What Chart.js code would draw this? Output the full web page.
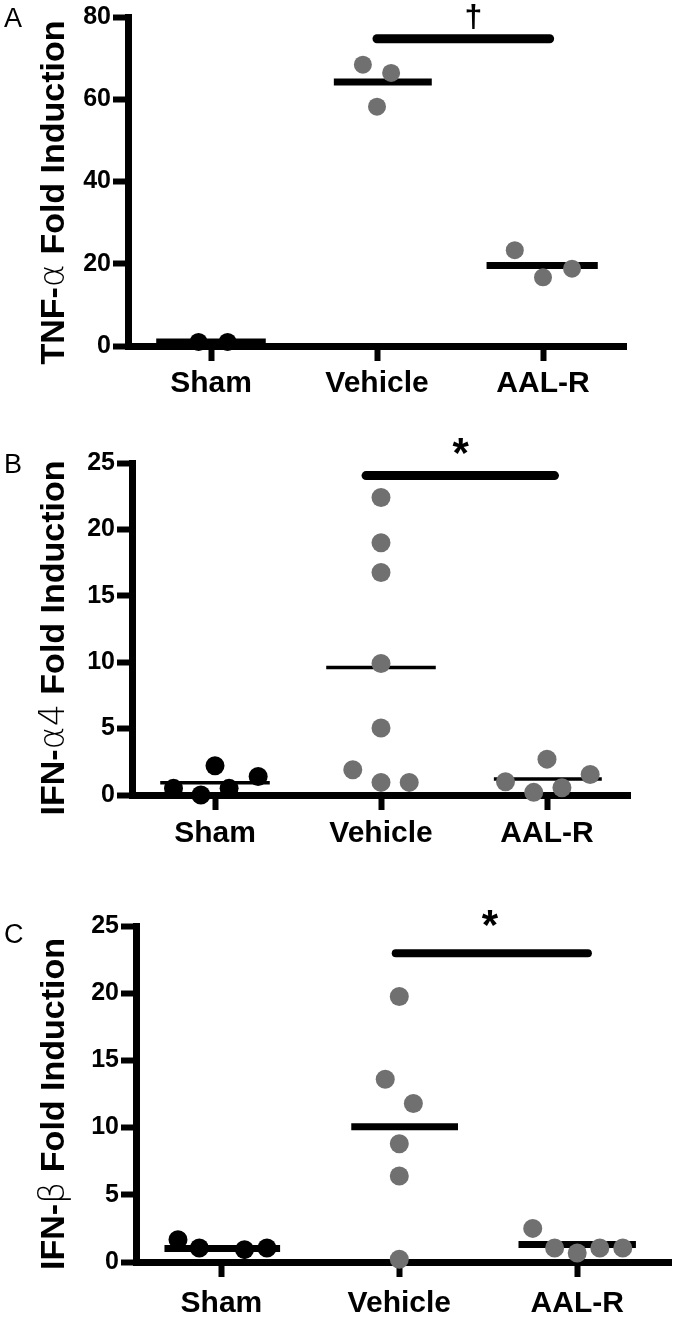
<!DOCTYPE html>
<html>
<head>
<meta charset="utf-8">
<script src="https://cdn.jsdelivr.net/npm/chart.js@4.4.1/dist/chart.umd.min.js"></script>
<style>
  html, body { margin: 0; padding: 0; background: #fff; }
  body { width: 681px; height: 1318px; position: relative; overflow: hidden; }
  canvas { position: absolute; left: 0; }
</style>
</head>
<body>
<canvas id="painel-a" width="681" height="410" style="top:0px"></canvas>
<canvas id="painel-b" width="681" height="430" style="top:420px"></canvas>
<canvas id="painel-c" width="681" height="458" style="top:860px"></canvas>
<script>
const categorias = ["Sham", "Vehicle", "AAL-R"];

// ── A: TNF-α ──
const tnfSham      = [1.0, 1.0];
const tnfShamDx    = [-0.075, 0.1];
const tnfVeiculo   = [68.4, 66.4, 58.2];
const tnfVeiculoDx = [-0.085, 0.085, 0];
const tnfAalr      = [23.3, 16.7, 18.8];
const tnfAalrDx    = [-0.17, 0, 0.175];
const tnfMedias    = [1.0, 64.2, 19.6];
const tnfMediaDe   = [-0.33, -0.26, -0.34];
const tnfMediaAte  = [0.33, 0.33, 0.33];
const tnfBarra     = [2.0, 3.04, 74.7];   // x inicial, x final, y
const tnfMarca     = [2.58, 79.8];
const tnfTicksY    = [0, 20, 40, 60, 80];

// ── B: IFN-α4 ──
const ifnaSham      = [0.5, 0.0, 2.2, 0.5, 1.4];
const ifnaShamDx    = [-0.25, -0.085, 0, 0.085, 0.26];
const ifnaVeiculo   = [22.4, 19.0, 16.75, 9.9, 5.05, 1.9, 0.95, 0.95];
const ifnaVeiculoDx = [0, 0, 0, 0, 0, -0.17, 0, 0.17];
const ifnaAalr      = [1.0, 0.2, 2.7, 0.55, 1.55];
const ifnaAalrDx    = [-0.25, -0.08, 0, 0.09, 0.26];
const ifnaMedias    = [0.93, 9.6, 1.2];
const ifnaMediaDe   = [-0.33, -0.33, -0.32];
const ifnaMediaAte  = [0.33, 0.33, 0.33];
const ifnaBarra     = [1.91, 3.045, 24.05];
const ifnaMarca     = [2.48, 25.6];
const ifnaTicksY    = [0, 5, 10, 15, 20, 25];

// ── C: IFN-β ──
const ifnbSham      = [1.66, 1.04, 0.92, 1.04];
const ifnbShamDx    = [-0.244, -0.124, 0.13, 0.256];
const ifnbVeiculo   = [19.75, 13.6, 11.8, 8.8, 6.4, 0.2];
const ifnbVeiculoDx = [0, -0.079, 0.079, 0, 0, 0];
const ifnbAalr      = [2.5, 1.04, 0.67, 1.04, 1.04];
const ifnbAalrDx    = [-0.25, -0.127, 0, 0.127, 0.256];
const ifnbMedias    = [1.0, 10.06, 1.3];
const ifnbMediaDe   = [-0.32, -0.27, -0.33];
const ifnbMediaAte  = [0.33, 0.33, 0.33];
const ifnbBarra     = [1.98, 3.06, 22.97];
const ifnbMarca     = [2.51, 24.9];
const ifnbTicksY    = [0, 5, 10, 15, 20, 25];

const PRETO = "#000000";
const CINZA = "#707070";
const FONTE = '"Liberation Sans", Arial, Helvetica, sans-serif';

function zerarPadding(s) {
    s.paddingTop = 0; s.paddingBottom = 0; s.paddingLeft = 0; s.paddingRight = 0;
}

// desenha letra do painel, título do eixo y (com grego em fonte fina) e marca de significância
const decoracao = {
    id: "decoracao",
    afterDraw(chart, args, opts) {
        const ctx = chart.ctx;
        const area = chart.chartArea;
        ctx.save();
        ctx.fillStyle = PRETO;

        ctx.font = "27px " + FONTE;
        ctx.textAlign = "left";
        ctx.textBaseline = "top";
        ctx.fillText(opts.letra, 4, opts.letraY);

        // título rotacionado
        ctx.save();
        ctx.translate(opts.tituloX, (area.top + area.bottom) / 2 + opts.tituloDy);
        ctx.rotate(-Math.PI / 2);
        ctx.textBaseline = "alphabetic";
        let total = 0;
        opts.titulo.forEach(([txt, fnt]) => { ctx.font = fnt; total += ctx.measureText(txt).width; });
        let x = -total / 2;
        opts.titulo.forEach(([txt, fnt]) => {
            ctx.font = fnt;
            ctx.fillText(txt, x, 0);
            x += ctx.measureText(txt).width;
        });
        ctx.restore();

        const sx = chart.scales.x, sy = chart.scales.y;
        ctx.font = opts.marcaFonte;
        ctx.textAlign = "center";
        ctx.textBaseline = "middle";
        ctx.fillText(opts.marca, sx.getPixelForValue(opts.marcaPos[0]), sy.getPixelForValue(opts.marcaPos[1]));
        ctx.restore();
    }
};

function montarPainel(id, p) {
    const canvas = document.getElementById(id);
    const H = canvas.height;
    const datasets = [];

    p.grupos.forEach((g, i) => {
        const cx = i + 1;
        datasets.push({
            type: "scatter",
            data: g.valores.map((v, k) => ({ x: cx + g.dx[k], y: v })),
            backgroundColor: i === 0 ? PRETO : CINZA,
            borderWidth: 0,
            pointRadius: p.raio,
            pointHoverRadius: p.raio,
            clip: false,
            order: 0,
        });
        datasets.push({
            type: "line",
            data: [
                { x: cx + p.mediaDe[i],  y: p.medias[i] },
                { x: cx + p.mediaAte[i], y: p.medias[i] },
            ],
            borderColor: PRETO,
            borderWidth: p.larguraMedia,
            borderCapStyle: "butt",
            pointRadius: 0,
            clip: false,
            order: 1,
        });
    });

    datasets.push({
        type: "line",
        data: [
            { x: p.barra[0], y: p.barra[2] },
            { x: p.barra[1], y: p.barra[2] },
        ],
        borderColor: PRETO,
        borderWidth: p.larguraBarra,
        borderCapStyle: "round",
        pointRadius: 0,
        clip: false,
        order: 1,
    });

    const grade = {
        display: true,
        drawOnChartArea: false,
        drawTicks: true,
        tickLength: 15,
        tickWidth: 6,
        tickColor: PRETO,
    };
    const borda = { display: true, width: 7, color: PRETO };

    new Chart(canvas, {
        type: "scatter",
        data: { datasets },
        options: {
            responsive: false,
            animation: false,
            events: [],
            layout: { padding: { top: p.topo, right: p.direita, bottom: 0, left: 0 } },
            plugins: {
                legend: { display: false },
                tooltip: { enabled: false },
                decoracao: p.deco,
            },
            scales: {
                x: {
                    type: "linear",
                    min: p.xMin,
                    max: p.xMax,
                    afterBuildTicks: s => { s.ticks = [1, 2, 3].map(v => ({ value: v })); },
                    afterFit: s => { s.height = H - p.base; zerarPadding(s); },
                    ticks: {
                        callback: v => categorias[v - 1],
                        font: { family: FONTE, size: 30, weight: "bold" },
                        color: PRETO,
                        padding: p.padX,
                        maxRotation: 0,
                        autoSkip: false,
                    },
                    grid: grade,
                    border: borda,
                },
                y: {
                    type: "linear",
                    min: 0,
                    max: p.ticksY[p.ticksY.length - 1],
                    afterBuildTicks: s => { s.ticks = p.ticksY.map(v => ({ value: v })); },
                    afterFit: s => { s.width = p.eixoX; zerarPadding(s); },
                    ticks: {
                        font: { family: FONTE, size: 25, weight: "bold" },
                        color: PRETO,
                        padding: 2,
                    },
                    grid: grade,
                    border: borda,
                },
            },
        },
        plugins: [decoracao],
    });
}

const fonteTitulo = "bold 34px " + FONTE;
const fonteGrego  = '200 35px "DejaVu Sans", ' + FONTE;

montarPainel("painel-a", {
    grupos: [
        { valores: tnfSham,    dx: tnfShamDx },
        { valores: tnfVeiculo, dx: tnfVeiculoDx },
        { valores: tnfAalr,    dx: tnfAalrDx },
    ],
    medias: tnfMedias, mediaDe: tnfMediaDe, mediaAte: tnfMediaAte,
    barra: tnfBarra, ticksY: tnfTicksY,
    raio: 9, larguraMedia: 7, larguraBarra: 9,
    xMin: 0.5, xMax: 3.5,
    eixoX: 128, topo: 17, base: 346, direita: 681 - 626, padX: 5,
    deco: {
        letra: "A", letraY: 6,
        titulo: [["TNF-", fonteTitulo], ["\u03B1", fonteGrego], [" Fold Induction", fonteTitulo]],
        tituloX: 64, tituloDy: 11,
        marca: "\u2020", marcaFonte: "bold 32px " + FONTE, marcaPos: tnfMarca,
    },
});

montarPainel("painel-b", {
    grupos: [
        { valores: ifnaSham,    dx: ifnaShamDx },
        { valores: ifnaVeiculo, dx: ifnaVeiculoDx },
        { valores: ifnaAalr,    dx: ifnaAalrDx },
    ],
    medias: ifnaMedias, mediaDe: ifnaMediaDe, mediaAte: ifnaMediaAte,
    barra: ifnaBarra, ticksY: ifnaTicksY,
    raio: 9.5, larguraMedia: 3.5, larguraBarra: 9,
    xMin: 0.5, xMax: 3.5,
    eixoX: 132, topo: 43, base: 375, direita: 681 - 630, padX: 6,
    deco: {
        letra: "B", letraY: 32,
        titulo: [["IFN-", fonteTitulo], ["\u03B14", fonteGrego], [" Fold Induction", fonteTitulo]],
        tituloX: 64, tituloDy: 9,
        marca: "*", marcaFonte: "bold 42px " + FONTE, marcaPos: ifnaMarca,
    },
});

montarPainel("painel-c", {
    grupos: [
        { valores: ifnbSham,    dx: ifnbShamDx },
        { valores: ifnbVeiculo, dx: ifnbVeiculoDx },
        { valores: ifnbAalr,    dx: ifnbAalrDx },
    ],
    medias: ifnbMedias, mediaDe: ifnbMediaDe, mediaAte: ifnbMediaAte,
    barra: ifnbBarra, ticksY: ifnbTicksY,
    raio: 9.5, larguraMedia: 7, larguraBarra: 8,
    xMin: 0.52, xMax: 3.53,
    eixoX: 136, topo: 66, base: 402, direita: 0, padX: 9,
    deco: {
        letra: "C", letraY: 62,
        titulo: [["IFN-", fonteTitulo], ["\u03B2", fonteGrego], [" Fold Induction", fonteTitulo]],
        tituloX: 64, tituloDy: 10,
        marca: "*", marcaFonte: "bold 42px " + FONTE, marcaPos: ifnbMarca,
    },
});
</script>
</body>
</html>
